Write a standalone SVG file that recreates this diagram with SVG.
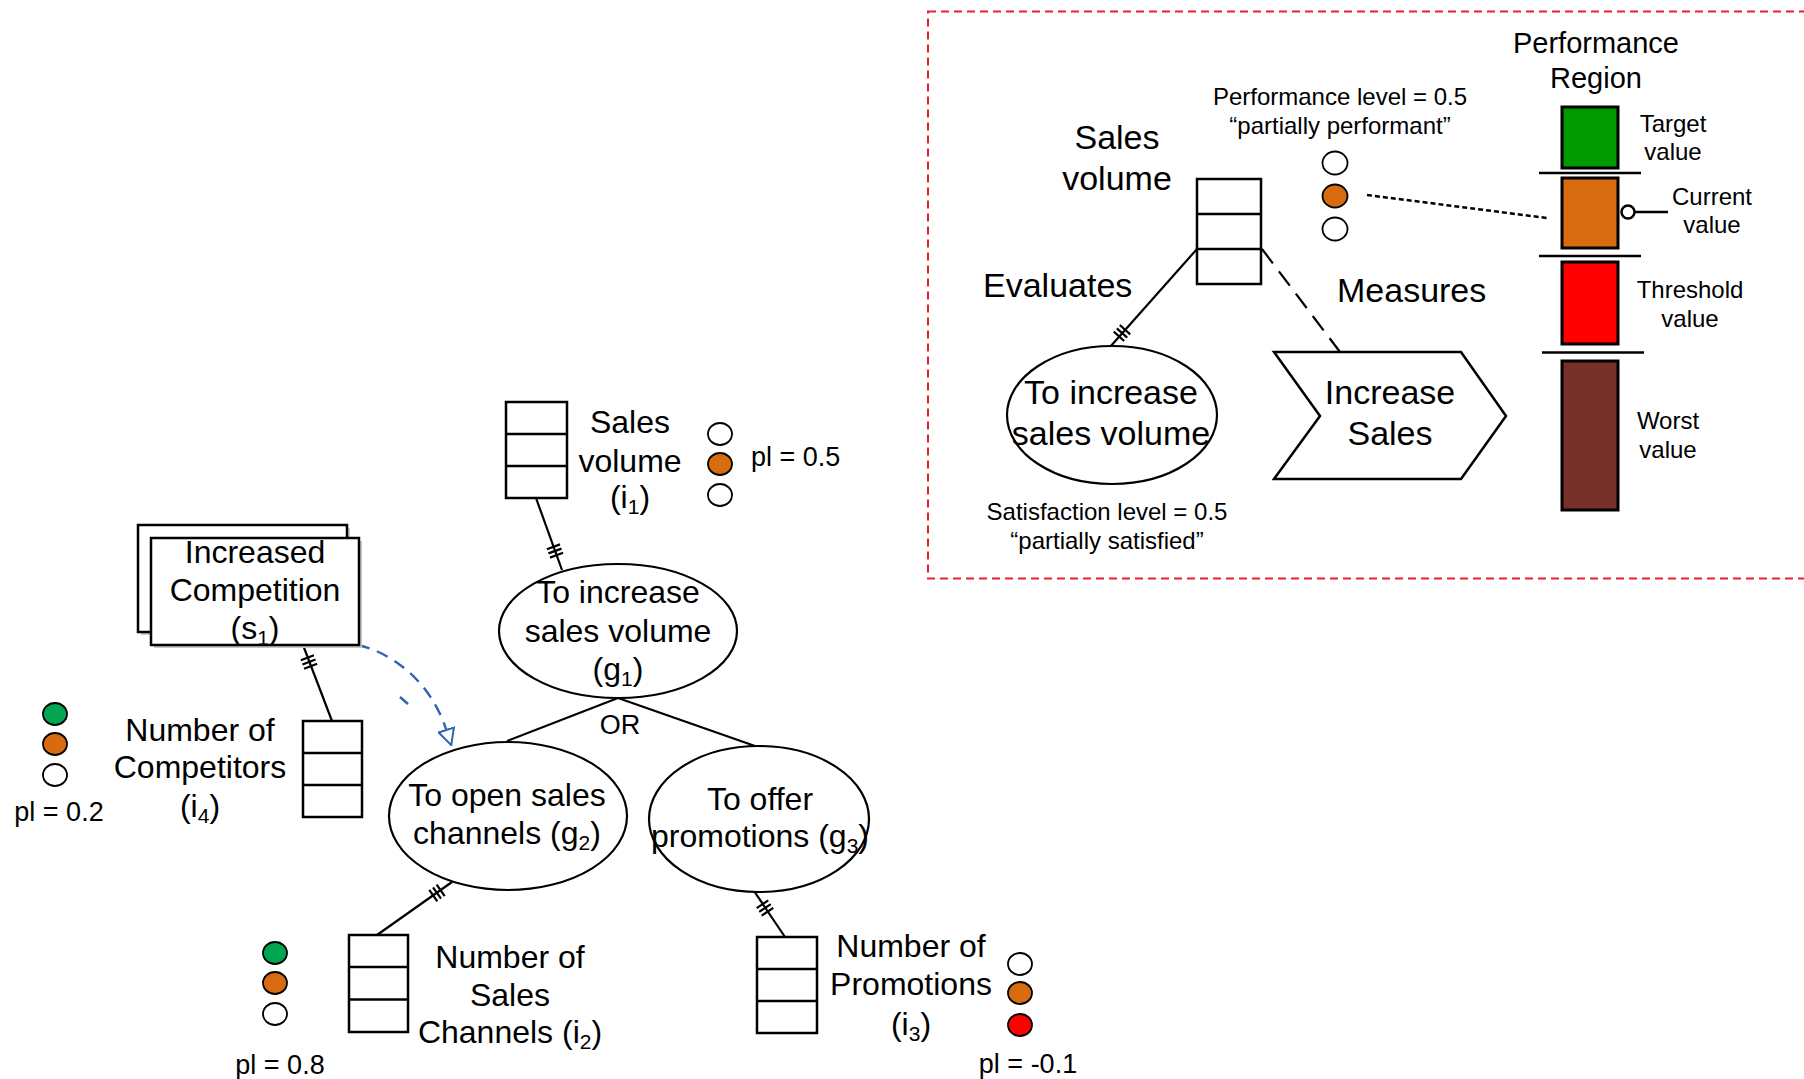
<svg xmlns="http://www.w3.org/2000/svg" xmlns:xlink="http://www.w3.org/1999/xlink" width="1804" height="1079" viewBox="0 0 1804 1079">
  <style>
    text { font-family: "Liberation Sans", Arial, sans-serif; fill: #000; }
    .f32 { font-size: 32px; }
    .f34 { font-size: 34px; }
    .f29 { font-size: 29px; }
    .f27 { font-size: 27px; }
    .f24 { font-size: 24px; }
    .mid { text-anchor: middle; }
    .box { fill: #fff; stroke: #000; stroke-width: 2.5; }
    .div { stroke: #000; stroke-width: 2.5; }
    .ell { fill: #fff; stroke: #000; stroke-width: 2.2; }
    .conn { fill: none; stroke: #000; stroke-width: 2.2; }
    .dash { fill: none; stroke: #000; stroke-width: 2.2; stroke-dasharray: 18 10; }
    .dot { fill: none; stroke: #000; stroke-width: 2.5; stroke-dasharray: 5 3; }
    .infl { fill: none; stroke: #2f64b0; stroke-width: 2.4; stroke-dasharray: 12 8; }
    .lamp { stroke: #000; stroke-width: 1.8; }
    .off { fill: #fff; }
    .org { fill: #d86b10; }
    .grn { fill: #00a651; }
    .red { fill: #ff0000; }
    .bar { stroke: #000; stroke-width: 3; }
    .sep { stroke: #000; stroke-width: 2.5; }
    .shadow { fill: #c8c8c8; }
    .frame { fill: none; stroke: #e8202a; stroke-width: 2; stroke-dasharray: 8 5; }
  </style>
  <defs>
    <!-- triple-bar cardinality tick, drawn across a connector -->
    <g id="hash">
      <path d="M-4.5,-7V7M0,-7V7M4.5,-7V7" stroke="#000" stroke-width="2.2" fill="none"/>
    </g>
    <marker id="openTri" viewBox="0 0 18 18" refX="0" refY="9" markerWidth="18" markerHeight="18" markerUnits="userSpaceOnUse" orient="auto">
      <path d="M1,1 L17,9 L1,17 Z" fill="#fff" stroke="#2f64b0" stroke-width="2"/>
    </marker>
  </defs>

  <rect width="1804" height="1079" fill="#fff"/>

  <!-- legend frame -->
  <rect class="frame" x="928" y="11.5" width="890" height="567"/>

  <!-- connectors -->
  <g id="connectors">
    <!-- goal model -->
    <line class="conn" x1="536" y1="498" x2="562" y2="570"/>
    <use xlink:href="#hash" transform="translate(555,551) rotate(70)"/>
    <line class="conn" x1="303" y1="645" x2="332" y2="721"/>
    <use xlink:href="#hash" transform="translate(309,662) rotate(69)"/>
    <line class="conn" x1="618" y1="698" x2="507" y2="741"/>
    <line class="conn" x1="618" y1="698" x2="755" y2="746"/>
    <line class="conn" x1="452" y1="882" x2="377" y2="935"/>
    <use xlink:href="#hash" transform="translate(437,893) rotate(145)"/>
    <line class="conn" x1="754" y1="891" x2="785" y2="937"/>
    <use xlink:href="#hash" transform="translate(765,908) rotate(56)"/>
    <path class="infl" d="M358,645 C390,652 430,680 446,729" marker-end="url(#openTri)"/>
    <path class="infl" d="M400,697 L408,704" style="stroke-dasharray:none"/>
    <!-- legend -->
    <line class="conn" x1="1197" y1="249" x2="1110" y2="347"/>
    <use xlink:href="#hash" transform="translate(1122,333) rotate(132)"/>
    <line class="dash" x1="1262" y1="249" x2="1340" y2="352"/>
    <line class="dot" x1="1367" y1="195" x2="1547" y2="218"/>
  </g>

  <!-- indicator i1 -->
  <g id="i1">
    <rect class="box" x="506" y="402" width="61" height="96"/>
    <line class="div" x1="506" y1="434" x2="567" y2="434"/>
    <line class="div" x1="506" y1="466" x2="567" y2="466"/>
    <text class="f32 mid" x="630" y="433">Sales</text>
    <text class="f32 mid" x="630" y="472">volume</text>
    <text class="f32 mid" x="630" y="508">(i<tspan font-size="21" dy="6">1</tspan><tspan dy="-6">)</tspan></text>
    <ellipse class="lamp off" cx="720" cy="434" rx="12" ry="11"/>
    <ellipse class="lamp org" cx="720" cy="464" rx="12" ry="11"/>
    <ellipse class="lamp off" cx="720" cy="495" rx="12" ry="11"/>
    <text class="f27" x="751" y="466">pl = 0.5</text>
  </g>

  <!-- goal g1 -->
  <g id="g1">
    <ellipse class="ell" cx="618" cy="631" rx="119" ry="67"/>
    <text class="f32 mid" x="618" y="603">To increase</text>
    <text class="f32 mid" x="618" y="642">sales volume</text>
    <text class="f32 mid" x="618" y="680">(g<tspan font-size="21" dy="6">1</tspan><tspan dy="-6">)</tspan></text>
  </g>
  <text id="or-label" class="f27 mid" x="620" y="734">OR</text>

  <!-- goal g2 -->
  <g id="g2">
    <ellipse class="ell" cx="508" cy="816" rx="119" ry="74"/>
    <text class="f32 mid" x="507" y="806">To open sales</text>
    <text class="f32 mid" x="507" y="844">channels (g<tspan font-size="21" dy="6">2</tspan><tspan dy="-6">)</tspan></text>
  </g>

  <!-- goal g3 -->
  <g id="g3">
    <ellipse class="ell" cx="759" cy="819" rx="110" ry="73"/>
    <text class="f32 mid" x="760" y="810">To offer</text>
    <text class="f32 mid" x="760" y="847">promotions (g<tspan font-size="21" dy="6">3</tspan><tspan dy="-6">)</tspan></text>
  </g>

  <!-- situation s1 -->
  <g id="s1">
    <rect class="shadow" x="141" y="528" width="209" height="107"/>
    <rect class="box" x="138" y="525" width="209" height="107"/>
    <rect class="shadow" x="154" y="541" width="208" height="107"/>
    <rect class="box" x="151" y="538" width="208" height="107"/>
    <text class="f32 mid" x="255" y="563">Increased</text>
    <text class="f32 mid" x="255" y="601">Competition</text>
    <text class="f32 mid" x="255" y="639">(s<tspan font-size="21" dy="6">1</tspan><tspan dy="-6">)</tspan></text>
  </g>

  <!-- indicator i4 -->
  <g id="i4">
    <rect class="box" x="303" y="721" width="59" height="96"/>
    <line class="div" x1="303" y1="753" x2="362" y2="753"/>
    <line class="div" x1="303" y1="785" x2="362" y2="785"/>
    <text class="f32 mid" x="200" y="741">Number of</text>
    <text class="f32 mid" x="200" y="778">Competitors</text>
    <text class="f32 mid" x="200" y="817">(i<tspan font-size="21" dy="6">4</tspan><tspan dy="-6">)</tspan></text>
    <ellipse class="lamp grn" cx="55" cy="714" rx="12" ry="11"/>
    <ellipse class="lamp org" cx="55" cy="744" rx="12" ry="11"/>
    <ellipse class="lamp off" cx="55" cy="775" rx="12" ry="11"/>
    <text class="f27 mid" x="59" y="821">pl = 0.2</text>
  </g>

  <!-- indicator i2 -->
  <g id="i2">
    <rect class="box" x="349" y="935" width="59" height="97"/>
    <line class="div" x1="349" y1="967" x2="408" y2="967"/>
    <line class="div" x1="349" y1="999.5" x2="408" y2="999.5"/>
    <text class="f32 mid" x="510" y="968">Number of</text>
    <text class="f32 mid" x="510" y="1006">Sales</text>
    <text class="f32 mid" x="510" y="1043">Channels (i<tspan font-size="21" dy="6">2</tspan><tspan dy="-6">)</tspan></text>
    <ellipse class="lamp grn" cx="275" cy="953" rx="12" ry="11"/>
    <ellipse class="lamp org" cx="275" cy="983" rx="12" ry="11"/>
    <ellipse class="lamp off" cx="275" cy="1014" rx="12" ry="11"/>
    <text class="f27 mid" x="280" y="1074">pl = 0.8</text>
  </g>

  <!-- indicator i3 -->
  <g id="i3">
    <rect class="box" x="757" y="937" width="60" height="96"/>
    <line class="div" x1="757" y1="969" x2="817" y2="969"/>
    <line class="div" x1="757" y1="1001" x2="817" y2="1001"/>
    <text class="f32 mid" x="911" y="957">Number of</text>
    <text class="f32 mid" x="911" y="995">Promotions</text>
    <text class="f32 mid" x="911" y="1035">(i<tspan font-size="21" dy="6">3</tspan><tspan dy="-6">)</tspan></text>
    <ellipse class="lamp off" cx="1020" cy="964" rx="12" ry="11"/>
    <ellipse class="lamp org" cx="1020" cy="993" rx="12" ry="11"/>
    <ellipse class="lamp red" cx="1020" cy="1025" rx="12" ry="11"/>
    <text class="f27 mid" x="1028" y="1073">pl = -0.1</text>
  </g>

  <!-- legend: indicator -->
  <g id="legend-indicator">
    <rect class="box" x="1197" y="179" width="64" height="105"/>
    <line class="div" x1="1197" y1="214" x2="1261" y2="214"/>
    <line class="div" x1="1197" y1="249" x2="1261" y2="249"/>
    <text class="f34 mid" x="1117" y="149">Sales</text>
    <text class="f34 mid" x="1117" y="190">volume</text>
    <ellipse class="lamp off" cx="1335" cy="163" rx="12.5" ry="11.5"/>
    <ellipse class="lamp org" cx="1335" cy="196" rx="12.5" ry="11.5"/>
    <ellipse class="lamp off" cx="1335" cy="229" rx="12.5" ry="11.5"/>
    <text class="f24 mid" x="1340" y="105">Performance level = 0.5</text>
    <text class="f24 mid" x="1340" y="134">“partially performant”</text>
  </g>
  <text id="evaluates-label" class="f34" x="983" y="297">Evaluates</text>
  <text id="measures-label" class="f34" x="1337" y="302">Measures</text>

  <!-- legend: goal -->
  <g id="legend-goal">
    <ellipse class="ell" cx="1112" cy="415" rx="105" ry="69"/>
    <text class="f34 mid" x="1111" y="404">To increase</text>
    <text class="f34 mid" x="1111" y="445">sales volume</text>
    <text class="f24 mid" x="1107" y="520">Satisfaction level = 0.5</text>
    <text class="f24 mid" x="1107" y="549">“partially satisfied”</text>
  </g>

  <!-- legend: process -->
  <g id="legend-process">
    <polygon class="box" points="1274,352 1461,352 1506,416 1461,479 1274,479 1320,416"/>
    <text class="f34 mid" x="1390" y="404">Increase</text>
    <text class="f34 mid" x="1390" y="445">Sales</text>
  </g>

  <!-- legend: performance region scale -->
  <g id="performance-region">
    <text class="f29 mid" x="1596" y="53">Performance</text>
    <text class="f29 mid" x="1596" y="88">Region</text>
    <rect class="bar" x="1562" y="107" width="56" height="61" fill="#009900"/>
    <line class="sep" x1="1539" y1="173" x2="1641" y2="173"/>
    <rect class="bar" x="1562" y="178" width="56" height="70" fill="#d86b10"/>
    <line class="sep" x1="1539" y1="256" x2="1641" y2="256"/>
    <rect class="bar" x="1562" y="262" width="56" height="82" fill="#ff0000"/>
    <line class="sep" x1="1542" y1="352.5" x2="1644" y2="352.5"/>
    <rect class="bar" x="1562" y="361" width="56" height="149" fill="#772f29"/>
    <line class="sep" x1="1635" y1="212" x2="1668" y2="212"/>
    <circle cx="1628" cy="212" r="6.5" fill="#fff" stroke="#000" stroke-width="2.5"/>
    <text class="f24 mid" x="1673" y="132">Target</text>
    <text class="f24 mid" x="1673" y="160">value</text>
    <text class="f24 mid" x="1712" y="205">Current</text>
    <text class="f24 mid" x="1712" y="233">value</text>
    <text class="f24 mid" x="1690" y="298">Threshold</text>
    <text class="f24 mid" x="1690" y="327">value</text>
    <text class="f24 mid" x="1668" y="429">Worst</text>
    <text class="f24 mid" x="1668" y="458">value</text>
  </g>
</svg>
